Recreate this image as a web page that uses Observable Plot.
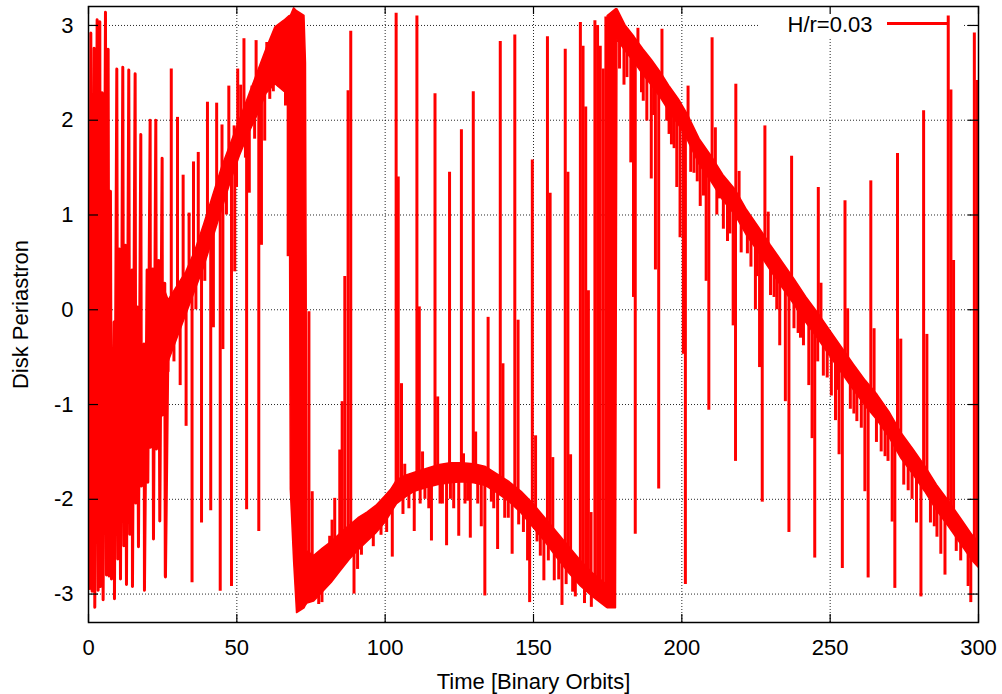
<!DOCTYPE html>
<html><head><meta charset="utf-8">
<script src="https://cdn.jsdelivr.net/npm/d3@7"></script>
<script src="https://cdn.jsdelivr.net/npm/@observablehq/plot@0.6"></script>
<style>body{margin:0;background:#fff}</style>
</head><body><div id="chart"></div>
<script>
// axis ticks
const xTicks = [0, 50, 100, 150, 200, 250, 300];
const yTicks = [-3, -2, -1, 0, 1, 2, 3];

// early, strongly oscillating part of the series (time, periastron)
const zigT = [0.33,0.78,1.22,1.90,2.12,2.91,3.25,3.81,4.03,4.60,4.93,5.72,6.06,6.62,6.96,7.40,7.74,8.64,8.75,9.54,9.88,10.44,10.78,11.56,11.90,12.46,12.80,13.58,13.92,14.71,14.82,15.72,15.94,16.51,16.84,17.63,17.85,18.75,18.86,19.76,19.99,20.78,20.89,21.67,21.90,22.69,22.91,23.70,24.03,24.82,24.93,25.71,25.94,26.84];
const zigV = [-2.94,2.92,-2.97,2.76,-3.14,3.06,-2.96,3.04,-2.92,2.29,-3.06,3.14,-2.80,2.75,-2.81,1.25,-2.84,-0.13,-3.05,2.54,-2.63,0.64,-2.84,2.56,-2.49,0.68,-2.90,2.53,-2.37,0.42,-2.92,2.49,-2.04,0.03,-2.50,1.85,-1.86,-0.36,-2.96,0.42,-1.82,2.0,-1.45,0.43,-2.42,2.0,-1.47,0.52,-2.23,1.60,-1.11,0.28,-2.82,-0.2];

// envelope of the fast-oscillating band (time, lower, upper)
const bandT  = [21,24,27,30,33,36,39,42,45,48,51,54,57,60,63,66,67.8,68.2,69.3,70.3,72.8,73.3,73.8,76,79,82,85,88,91,94,97,100,102,104,107,110,114,118,122,126,130,134,138,142,146,150,154,158,162,166,170,174.6,175,177.8,178.3,181,184,187,190,193,196,199,202,206,210,214,218,222,226,230,234,238,242,246,250,254,258,262,266,270,274,278,282,286,290,294,298,300];
const bandLo = [-1.45,-1.1,-0.55,-0.3,-0.05,0.2,0.45,0.75,1.05,1.35,1.62,1.85,2.05,2.28,2.38,2.3,2.3,-1.9,-2.65,-3.2,-3.15,-3.12,-3.1,-3.08,-2.98,-2.88,-2.76,-2.64,-2.54,-2.45,-2.36,-2.25,-2.15,-2.05,-1.98,-1.92,-1.88,-1.85,-1.83,-1.82,-1.83,-1.86,-1.94,-2.03,-2.15,-2.3,-2.45,-2.62,-2.78,-2.92,-3.03,-3.14,-3.15,-3.15,2.85,2.73,2.61,2.48,2.36,2.23,2.08,1.95,1.79,1.53,1.35,1.15,1.0,0.78,0.6,0.41,0.23,0.05,-0.14,-0.31,-0.49,-0.67,-0.85,-1.02,-1.17,-1.35,-1.57,-1.74,-1.92,-2.12,-2.29,-2.47,-2.65,-2.72];
const bandHi = [0.42,0.35,0.1,0.25,0.4,0.62,0.9,1.2,1.5,1.75,2.0,2.25,2.5,2.75,2.98,3.05,3.1,3.1,3.18,3.15,3.1,2.6,-2.55,-2.6,-2.52,-2.45,-2.36,-2.28,-2.2,-2.14,-2.07,-1.97,-1.9,-1.8,-1.75,-1.72,-1.68,-1.64,-1.62,-1.62,-1.63,-1.66,-1.74,-1.82,-1.92,-2.05,-2.2,-2.35,-2.5,-2.65,-2.78,-2.9,3.1,3.17,3.17,3.0,2.88,2.75,2.63,2.5,2.35,2.22,2.06,1.8,1.62,1.42,1.27,1.05,0.87,0.68,0.5,0.32,0.13,-0.04,-0.22,-0.4,-0.58,-0.75,-0.9,-1.08,-1.3,-1.47,-1.65,-1.85,-2.02,-2.2,-2.38,-2.45];

// isolated excursions of the series (time, band value, extreme value)
const spikeT = [27.9,30.0,31.9,33.9,35.4,37.0,40.1,43.2,45.0,47.3,49.1,50.3,51.3,52.4,55.1,56.5,59.2,60.1,
 25.9,26.8,30.9,32.9,34.9,38.1,41.2,42.1,44.4,45.3,48.2,49.3,49.9,53.3,54.2,57.4,58.3,59.4,61.1,66.4,67.3,
 28.8,36.2,39.2,46.5,52.9,56.0,62.3,64.2,
 74.3,75.4,81.3,82.1,83.0,84.7,85.5,86.4,87.5,88.4,103.7,104.4,105.5,106.6,110.7,111.5,112.6,116.8,117.7,121.7,125.7,126.4,129.7,130.5,134.7,138.8,139.7,143.7,144.8,149.6,150.7,154.7,155.6,156.5,160.7,161.6,162.5,165.8,166.7,167.6,168.5,169.4,170.7,171.6,172.5,173.5,174.4,
 77.6,78.7,89.5,90.7,92.0,94.1,98.6,102.4,106.0,109.8,113.4,115.6,119.3,120.7,123.1,124.8,126.9,128.7,132.4,133.6,135.8,137.9,140.3,142.8,145.0,148.0,148.7,151.2,153.5,157.0,159.6,164.1,169.5,
 96.0,100.5,108.0,111.8,114.7,118.5,122.0,127.8,131.2,136.6,141.5,146.6,152.3,155.0,158.5,161.0,163.2,167.2,
 185.2,193.3,202.1,210.2,211.3,218.2,219.3,228.0,229.1,237.0,246.0,246.9,255.0,255.9,263.7,264.8,272.7,273.8,281.5,282.6,289.8,290.7,291.6,298.6,299.5,
 179.0,180.5,182.8,183.7,184.3,186.4,188.2,189.7,191.1,192.2,194.9,196.5,198.3,199.4,200.5,201.2,204.1,206.2,208.2,209.1,212.7,215.4,217.3,218.1,222.1,224.8,226.2,227.1,231.1,233.0,234.9,236.1,239.2,241.0,242.8,243.9,244.8,247.7,250.4,251.8,253.0,254.1,259.0,261.7,262.8,268.5,270.9,271.8,276.3,279.1,280.6,285.1,287.3,288.7,295.4,296.5,297.4,
 181.5,187.0,190.5,195.7,197.4,203.0,205.2,207.3,211.8,214.0,216.2,220.0,223.3,225.3,229.9,232.0,237.8,240.0,245.8,249.0,252.5,256.8,258.0,260.5,265.6,267.2,269.5,274.8,277.6,283.8,286.0,292.5,294.0];
const spikeFrom = [-0.2,-0.05,0.05,0.17,0.3,0.45,0.72,1.0,1.25,1.5,1.65,1.75,1.85,1.9,2.05,2.15,2.4,2.45,
 -0.3,-0.2,0.0,0.1,0.25,0.55,0.85,0.95,1.15,1.25,1.55,1.6,1.65,2.0,2.0,2.2,2.3,2.45,2.55,2.6,2.6,
 -0.2,0.4,0.65,1.4,1.95,2.1,2.6,2.7,
 -2.85,-2.85,-2.68,-2.65,-2.63,-2.58,-2.55,-2.52,-2.48,-2.45,-1.95,-1.93,-1.9,-1.88,-1.82,-1.81,-1.8,-1.76,-1.75,-1.72,-1.72,-1.72,-1.73,-1.73,-1.76,-1.84,-1.85,-1.95,-1.98,-2.15,-2.18,-2.32,-2.35,-2.38,-2.55,-2.58,-2.64,-2.77,-2.8,-2.83,-2.86,-2.88,-2.9,-2.93,-2.96,-3.0,-3.0,
 -2.83,-2.8,-2.42,-2.38,-2.34,-2.3,-2.17,-2.0,-1.88,-1.82,-1.78,-1.76,-1.74,-1.73,-1.72,-1.72,-1.72,-1.73,-1.75,-1.76,-1.78,-1.84,-1.87,-1.94,-2.0,-2.08,-2.1,-2.2,-2.3,-2.43,-2.52,-2.7,-2.88,
 -2.2,-2.08,-1.85,-1.8,-1.78,-1.75,-1.72,-1.72,-1.74,-1.8,-1.9,-2.05,-2.25,-2.33,-2.5,-2.57,-2.66,-2.82,
 2.6,2.31,1.85,1.44,1.4,1.07,1.02,0.58,0.54,0.18,-0.22,-0.25,-0.63,-0.67,-0.97,-1.0,-1.36,-1.42,-1.75,-1.8,-2.11,-2.14,-2.18,-2.52,-2.56,
 2.95,2.88,2.75,2.72,2.7,2.6,2.52,2.45,2.38,2.35,2.25,2.15,2.08,2.02,1.95,1.9,1.75,1.63,1.54,1.5,1.35,1.2,1.12,1.08,0.88,0.75,0.68,0.63,0.45,0.36,0.28,0.22,0.08,0.0,-0.07,-0.12,-0.16,-0.3,-0.42,-0.48,-0.53,-0.58,-0.8,-0.9,-0.93,-1.18,-1.3,-1.33,-1.54,-1.68,-1.74,-1.95,-2.03,-2.08,-2.38,-2.42,-2.46,
 2.8,2.56,2.42,2.2,2.12,1.82,1.7,1.6,1.38,1.25,1.15,0.98,0.83,0.72,0.5,0.4,0.14,0.05,-0.2,-0.35,-0.5,-0.7,-0.75,-0.86,-1.05,-1.12,-1.22,-1.47,-1.6,-1.88,-2.0,-2.22,-2.3];
const spikeTo = [2.54,2.03,1.42,1.02,1.56,1.66,2.19,2.18,1.95,2.36,1.94,2.54,2.37,2.86,2.36,2.84,2.6,2.82,
 -2.82,-0.66,-0.8,-1.23,-2.88,-2.25,-2.12,-0.19,-2.97,-0.42,-2.92,0.4,1.29,-2.11,1.23,-2.34,0.68,1.78,2.22,2.15,0.56,
 -0.55,0.0,0.3,1.0,1.6,1.8,2.3,2.35,
 -0.02,-1.92,-2.39,-2.22,-1.99,-1.48,-0.97,0.35,2.31,2.94,3.13,1.4,-0.78,-1.63,3.1,0.03,-1.5,2.28,-0.92,1.45,1.9,-1.52,2.3,-1.29,-0.08,2.83,-0.57,2.9,-0.11,1.58,-1.33,2.88,1.23,-1.56,2.75,1.45,-1.53,3.03,2.78,2.14,0.2,-2.14,3.05,3.0,2.78,2.54,3.09,
 -3.11,-3.09,-3.0,-2.74,-2.59,-2.43,-2.38,-2.61,-2.16,-2.34,-2.0,-2.44,-2.05,-2.49,-2.1,-2.39,-2.05,-2.41,-2.29,-3.02,-2.03,-2.53,-2.2,-2.58,-2.27,-2.65,-3.09,-2.45,-2.86,-2.86,-3.12,-3.03,-3.14,
 -2.5,-2.35,-2.1,-2.05,-2.1,-2.05,-2.0,-2.02,-2.05,-2.1,-2.2,-2.35,-2.6,-2.65,-2.85,-2.9,-2.98,-3.1,
 2.97,2.96,2.36,2.87,1.92,2.38,1.46,1.94,1.03,1.62,1.29,0.28,1.15,0.01,1.36,-0.2,1.65,-0.31,2.1,-0.26,3.1,2.32,0.52,2.92,2.42,
 2.54,2.37,1.55,0.13,-2.37,2.29,1.99,1.38,0.42,-1.89,1.99,1.74,1.29,0.76,-0.47,-2.9,1.44,1.09,0.30,-1.06,1.17,0.72,-0.17,-1.6,0.59,0.0,-0.61,-2.03,0.13,-0.38,-0.97,-2.35,-0.25,-0.38,-0.8,-1.36,-2.62,-0.7,-0.91,-1.17,-1.53,-2.73,-1.18,-1.92,-2.83,-1.55,-2.24,-2.94,-1.91,-2.25,-3.03,-2.29,-2.58,-2.8,-2.5,-2.92,-3.09,
 2.45,2.2,2.05,1.85,1.7,1.45,1.35,1.2,1.0,0.85,0.8,0.6,0.45,0.35,0.15,0.0,-0.2,-0.3,-0.55,-0.72,-0.85,-1.05,-1.1,-1.25,-1.4,-1.5,-1.6,-1.85,-2.0,-2.25,-2.4,-2.55,-2.65];

const seriesLabel = "H/r=0.03";
const red = "#ff0000";
const font = "'Liberation Sans', Arial, Helvetica, sans-serif";

const plot = Plot.plot({
  width: 1002, height: 694,
  marginLeft: 88, marginRight: 24, marginTop: 6, marginBottom: 72,
  style: {fontFamily: font, fontSize: "22px", background: "white", color: "black", overflow: "visible"},
  x: {domain: [0, 300]},
  y: {domain: [-3.3, 3.2]},
  marks: [
    Plot.gridX(xTicks, {stroke: "#000", strokeOpacity: 0.85, strokeWidth: 1, strokeDasharray: "1,2"}),
    Plot.gridY(yTicks, {stroke: "#000", strokeOpacity: 0.85, strokeWidth: 1, strokeDasharray: "1,2"}),
    Plot.areaY(bandT, {x: bandT, y1: bandLo, y2: bandHi, fill: red, stroke: red, strokeWidth: 1.5}),
    Plot.line(zigT, {x: zigT, y: zigV, stroke: red, strokeWidth: 3, strokeLinejoin: "round"}),
    Plot.ruleX(spikeT, {x: spikeT, y1: spikeFrom, y2: spikeTo, stroke: red, strokeWidth: 3}),
    Plot.tickX(xTicks, {x: d => d, insetTop: 608, stroke: "#000", strokeWidth: 1.2}),
    Plot.tickX(xTicks, {x: d => d, insetBottom: 608, stroke: "#000", strokeWidth: 1.2}),
    Plot.tickY(yTicks, {y: d => d, insetRight: 880, stroke: "#000", strokeWidth: 1.2}),
    Plot.tickY(yTicks, {y: d => d, insetLeft: 880, stroke: "#000", strokeWidth: 1.2}),
    Plot.axisX(xTicks, {tickSize: 0, tickPadding: 17, fontSize: 22, tickFormat: d => String(d), label: null}),
    Plot.axisY(yTicks, {tickSize: 0, tickPadding: 15, fontSize: 22, tickFormat: d => String(d), label: null}),
    Plot.frame({stroke: "#000", strokeWidth: 1.5}),
    Plot.text(["Time [Binary Orbits]"], {text: d => d, frameAnchor: "bottom", dy: 59, lineAnchor: "middle", fontSize: 22}),
    Plot.text(["Disk Periastron"], {text: d => d, frameAnchor: "left", dx: -67.5, rotate: -90, textAnchor: "middle", lineAnchor: "middle", fontSize: 22}),
    Plot.text([seriesLabel], {text: d => d, frameAnchor: "top-right", dx: -106, dy: 18.7, textAnchor: "end", lineAnchor: "middle", fontSize: 22})
  ]
});
document.getElementById("chart").appendChild(plot);

// opaque key box (under the data, over the grid) and key sample line
const svg = d3.select(plot);
svg.insert("rect", 'g[aria-label="area"]')
  .attr("x", 759).attr("y", 9).attr("width", 204).attr("height", 30).attr("fill", "white");
svg.append("line")
  .attr("x1", 887).attr("x2", 947).attr("y1", 23.5).attr("y2", 23.5)
  .attr("stroke", red).attr("stroke-width", 3);
</script>
</body></html>
